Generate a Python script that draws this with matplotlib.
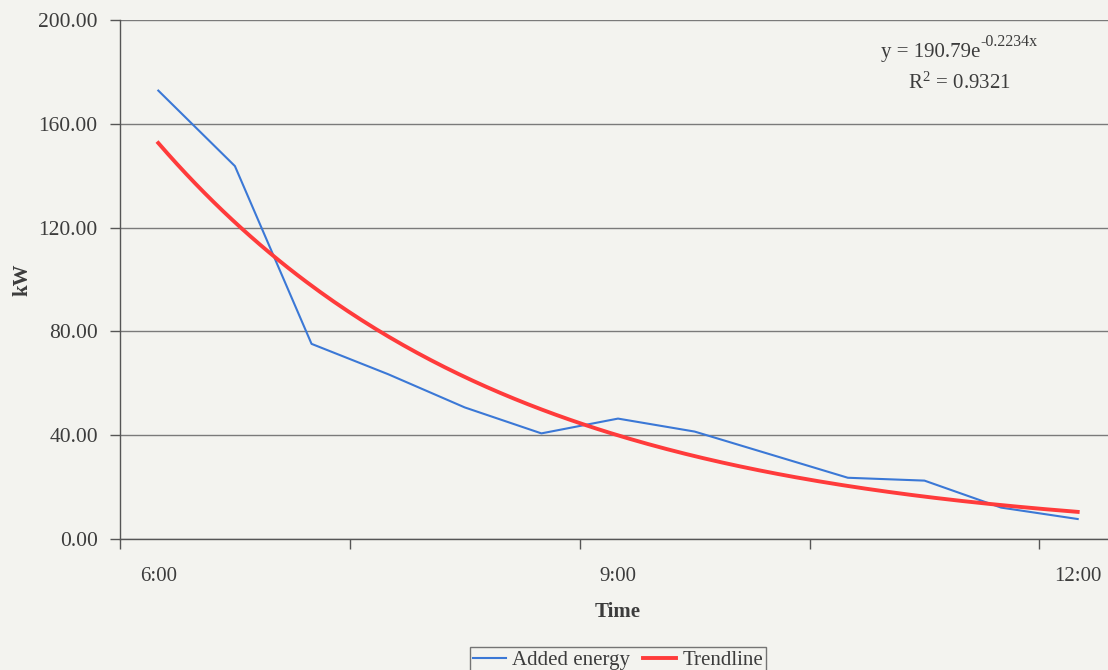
import numpy as np
import matplotlib.pyplot as plt

# values
times = ['6:00', '6:30', '7:00', '7:30', '8:00', '8:30', '9:00',
         '9:30', '10:00', '10:30', '11:00', '11:30', '12:00']
added_energy = [172.8, 143.7, 75.2, 63.5, 50.7, 40.7, 46.4,
                41.4, 32.5, 23.6, 22.5, 12.1, 7.7]
# trendline coefficients shown on the chart
trend_a = 190.79
trend_b = -0.2234
r_squared = 0.9321

plt.rcParams['font.family'] = ['Liberation Serif', 'DejaVu Serif']
plt.rcParams['mathtext.fontset'] = 'stix'

txt = '#3c3c3c'
bg = '#f3f3ef'

fig = plt.figure(figsize=(11.08, 6.70), dpi=100, facecolor=bg)
ax = fig.add_axes([120 / 1108, 1 - 539 / 670, 996 / 1108, 519 / 670])
ax.set_facecolor(bg)

x = np.arange(len(times))
ax.plot(x, added_energy, color='#3b78d6', lw=1.5, label='Added energy')

# exponential trendline, Excel numbers x from 1
xs = np.linspace(0, len(times) - 1, 200)
ax.plot(xs, trend_a * np.exp(trend_b * (xs + 1)), color='#ff3b3b', lw=2.8,
        label='Trendline')

ax.set_xlim(-0.5, len(times) - 0.5)
ax.set_ylim(0, 200)
ax.set_yticks(np.arange(0, 201, 40))
ax.set_yticklabels([f'{v:.2f}' for v in np.arange(0, 201, 40)])
ax.yaxis.grid(True, color='#7a7a7a', lw=1.0)
ax.set_axisbelow(True)

# tick marks between categories, labels every 3 hours
ax.set_xticks(np.arange(-0.5, len(times), 3))
ax.set_xticklabels([])
ax.set_xticks([0, 6, 12], minor=True)
ax.set_xticklabels([times[0], times[6], times[12]], minor=True)
ax.tick_params(axis='x', which='major', length=7, width=1, color='#555555')
ax.tick_params(axis='x', which='minor', length=0, pad=20, labelsize=15,
               labelcolor=txt)
ax.tick_params(axis='y', length=7, width=1, color='#555555', pad=9,
               labelsize=15.5, labelcolor=txt)

for s in ['top', 'right']:
    ax.spines[s].set_visible(False)
for s in ['left', 'bottom']:
    ax.spines[s].set_color('#555555')
    ax.spines[s].set_linewidth(1.0)

ax.set_xlabel('Time', fontsize=15, fontweight='bold', color=txt, labelpad=12)
ax.set_ylabel('kW', fontsize=15, fontweight='bold', color=txt)
ax.yaxis.set_label_coords((32 - 120) / 996, 0.5)

# trendline equation
fig.text(980 / 1108, 1 - 53 / 670, f'y = {trend_a}e',
         ha='right', va='center', fontsize=15, color=txt)
fig.text(980 / 1108, 1 - 42 / 670, f'{trend_b}x',
         ha='left', va='center', fontsize=11.5, color=txt)
fig.text(959 / 1108, 1 - 83 / 670, 'R$^{\\mathregular{2}}$' + f' = {r_squared}',
         ha='center', va='center', fontsize=15, color=txt)

leg = fig.legend(loc='upper center', bbox_to_anchor=(618 / 1108, 1 - 637 / 670),
                 ncol=2, fontsize=15, frameon=True, fancybox=False,
                 handlelength=1.6, handletextpad=0.3, columnspacing=0.6,
                 borderpad=0.15, labelcolor=txt)
leg.get_frame().set_edgecolor('#555555')
leg.get_frame().set_facecolor(bg)
leg.get_frame().set_linewidth(1.0)

fig.savefig('out.png', dpi=100, facecolor=bg)
